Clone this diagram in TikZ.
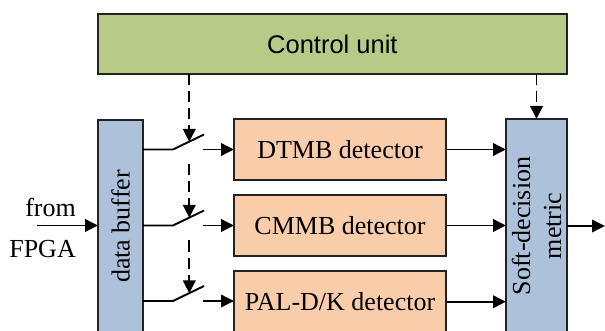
\documentclass[tikz,border=0pt]{standalone}
\usepackage{fontspec}
\setmainfont{Liberation Serif}
\newfontfamily\arialfont{Liberation Sans}
\usetikzlibrary{arrows.meta}
\definecolor{ctrlgreen}{HTML}{B7CA87}
\definecolor{bufblue}{HTML}{AEC1DA}
\definecolor{detpeach}{HTML}{F9CDA9}
\definecolor{edge}{HTML}{222222}
\tikzset{
  box/.style={draw=edge, line width=1.7pt, inner sep=0pt, outer sep=0pt},
  ctrlbox/.style={box, fill=ctrlgreen, minimum width=469pt, minimum height=60pt,
     font=\arialfont\fontsize{25.5}{30}\selectfont},
  bufbox/.style={box, fill=bufblue},
  detbox/.style={box, fill=detpeach, minimum width=212pt, minimum height=61pt,
     font=\fontsize{26}{31}\selectfont},
  lbl/.style={inner sep=0pt, font=\fontsize{26}{31}\selectfont},
  conn/.style={line width=1.9pt, draw=black},
  arr/.style={conn, -{Triangle[length=13pt,width=12.5pt]}},
  ctl/.style={arr, dash pattern=on 11pt off 6pt},
}
\begin{document}
\begin{tikzpicture}[x=1pt,y=-1pt]
\useasboundingbox (0,0) rectangle (605,331);
\clip (0,0) rectangle (605,331);
% boxes
\node[ctrlbox] (ctrl) at (332.4,44) {Control unit};
\node[bufbox, minimum width=45pt, minimum height=213pt] (buf) at (120.5,226.5) {};
\node[lbl, rotate=90] (buflbl) at (buf.center) {data buffer};
\node[bufbox, minimum width=61pt, minimum height=214pt] (soft) at (536.5,226) {};
\node[lbl, rotate=90, align=center] (softlbl) at (soft.center) {Soft-decision\\metric};
\node[detbox] (det1) at (340,149.5) {DTMB detector};
\node[detbox] (det2) at (340,225.5) {CMMB detector};
\node[detbox, minimum height=61.5pt] (det3) at (340,301.75) {PAL-D/K detector};
% input
\coordinate (in) at (37,225.5);
\draw[arr] (in) -- (buf.west |- in);
\node[lbl, anchor=base east] (from) at (76,217) {from};
\node[lbl, anchor=base east] (fpga) at (76,257) {FPGA};
% switches
\foreach \i/\y in {1/149.5,2/225.5,3/301}{
  \coordinate (s\i) at (143,\y);
  \coordinate (a\i) at (173,\y);
  \coordinate (b\i) at (204,\y-15);
  \coordinate (c\i) at (203,\y);
  \coordinate (t\i) at (189.3,\y-7.6);
  \coordinate (r\i) at (189.3,\y+15);
  \draw[conn] (s\i) -- (a\i) -- (b\i);
  \draw[arr] (c\i) -- (det\i.west |- c\i);
  \draw[arr] (det\i.east) -- (soft.west |- det\i.east);
}
% control lines
\draw[ctl] (ctrl.south -| t1) -- (t1);
\draw[ctl] (r1) -- (t2);
\draw[ctl] (r2) -- (t3);
\draw[ctl] (ctrl.south -| soft.north) -- (soft.north);
% output
\coordinate (out) at (605,226);
\draw[arr] (soft.east |- out) -- (out);
\end{tikzpicture}
\end{document}
